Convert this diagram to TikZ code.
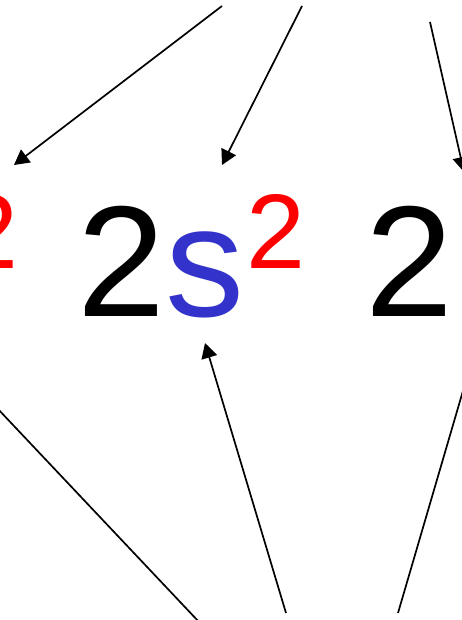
\documentclass[tikz,border=0pt]{standalone}
\usepackage{fontspec}
\setmainfont{Liberation Sans}
\usetikzlibrary{arrows.meta, positioning}
\definecolor{cOrbital}{RGB}{51,51,204}
\definecolor{cCount}{RGB}{255,0,0}
\tikzset{
	shell/.style ={inner sep=0pt, anchor=base west, font=\fontsize{158}{160}\selectfont},
	count/.style ={inner sep=0pt, anchor=base west, text=cCount, font=\fontsize{106}{107}\selectfont},
	ptr/.style   ={-{Triangle[length=15pt, width=16pt]}, line width=1.7pt},
	lead/.style  ={line width=1.7pt},
}
\begin{document}
\begin{tikzpicture}[x=1pt, y=-1pt]
	\clip (0,0) rectangle (462,620);
	% configuration text
	\node[count] (c1) at (-41,268) {2};
	\node[shell] (n2) at (77,316) {2};
	\node[shell, text=cOrbital] (o2) at (n2.base east) {s};
	\node[count] (c2) at ([xshift=2pt, yshift=48pt]o2.base east) {2};
	\node[shell] (n3) at (365,316) {2};
	% free ends of the pointers
	\coordinate (top1) at (222,6); \coordinate (top2) at (302,6); \coordinate (top3) at (430,22);
	\coordinate (tip1) at (14,165); \coordinate (tip2) at (222,165); \coordinate (tip3) at (464,172);
	\coordinate (low1) at (-20,390); \coordinate (end1) at (200,623);
	\coordinate (low2) at (286,613); \coordinate (tip4) at (205,343);
	\coordinate (low3) at (398,613); \coordinate (end3) at (472,360);
	\draw[ptr] (top1) -- (tip1); \draw[ptr] (top2) -- (tip2); \draw[ptr] (top3) -- (tip3);
	\draw[ptr] (low2) -- (tip4);
	\draw[lead] (low1) -- (end1); \draw[lead] (low3) -- (end3);
\end{tikzpicture}
\end{document}
